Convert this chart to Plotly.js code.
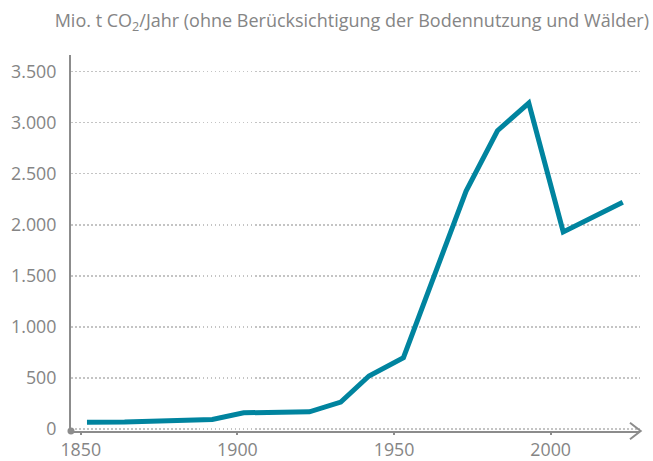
<!DOCTYPE html>
<html>
<head>
<meta charset="utf-8">
<script src="https://cdn.plot.ly/plotly-3.0.1.min.js"></script>
<style>html,body{margin:0;padding:0;background:#fff;}#chart{width:653px;height:461px;}</style>
</head>
<body>
<div id="chart"></div>
<script>
const years = [1852, 1864, 1892, 1902, 1923, 1933, 1942, 1953, 1973, 1983, 1993, 2004, 2023];
const emissions = [68, 70, 95, 160, 170, 265, 520, 700, 2330, 2920, 3190, 1930, 2220];
const xTicks = [1850, 1900, 1950, 2000];
const yTicks = [0, 500, 1000, 1500, 2000, 2500, 3000, 3500];
const titleText = 'Mio. t CO<sub>2</sub>/Jahr (ohne Berücksichtigung der Bodennutzung und Wälder)';

const axisColor = '#8c8c8c';
const textColor = '#858585';
const fontFam = '"Open Sans", Roboto, sans-serif';

const trace = {
  x: years, y: emissions, type: 'scatter', mode: 'lines',
  line: {color: '#00849f', width: 5, shape: 'linear'},
  hoverinfo: 'skip'
};

const layout = {
  width: 653, height: 461,
  margin: {l: 71, r: 13, t: 55, b: 30, pad: 0},
  paper_bgcolor: '#fff', plot_bgcolor: '#fff',
  separators: ',.',
  showlegend: false,
  font: {family: fontFam, size: 17, color: textColor},
  title: {
    text: titleText, xref: 'container', yref: 'container',
    x: 649 / 653, xanchor: 'right', y: 1 - 21 / 461, yanchor: 'middle',
    font: {family: fontFam, size: 18, color: textColor}
  },
  xaxis: {
    range: [1846.9, 2028.5], tickvals: xTicks, ticktext: xTicks.map(String),
    showgrid: false, zeroline: false,
    showline: true, linecolor: axisColor, linewidth: 2,
    ticks: 'outside', ticklen: 2, tickwidth: 2, tickcolor: axisColor,
    tickfont: {family: fontFam, size: 17.8, color: textColor},
    fixedrange: true
  },
  yaxis: {
    range: [-18, 3661], tickvals: yTicks, tickformat: ',d',
    showgrid: true, gridcolor: '#c4c4c4', gridwidth: 1.5, griddash: '1.5px,2.5px',
    zeroline: false,
    showline: true, linecolor: axisColor, linewidth: 2,
    ticks: 'outside', ticklen: 9, tickcolor: 'rgba(0,0,0,0)',
    tickfont: {family: fontFam, size: 17.8, color: textColor},
    fixedrange: true
  },
  shapes: [
    {type: 'path', xref: 'paper', yref: 'paper',
     path: 'M 0.9824 0.0221 L 1.0012 0 L 0.9824 -0.0221',
     line: {color: axisColor, width: 2}},
    {type: 'circle', xref: 'paper', yref: 'paper',
     x0: -0.0062, x1: 0.0062, y0: -0.0093, y1: 0.0093,
     fillcolor: axisColor, line: {width: 0}}
  ]
};

Plotly.newPlot('chart', [trace], layout, {displayModeBar: false, staticPlot: true});
</script>
</body>
</html>
